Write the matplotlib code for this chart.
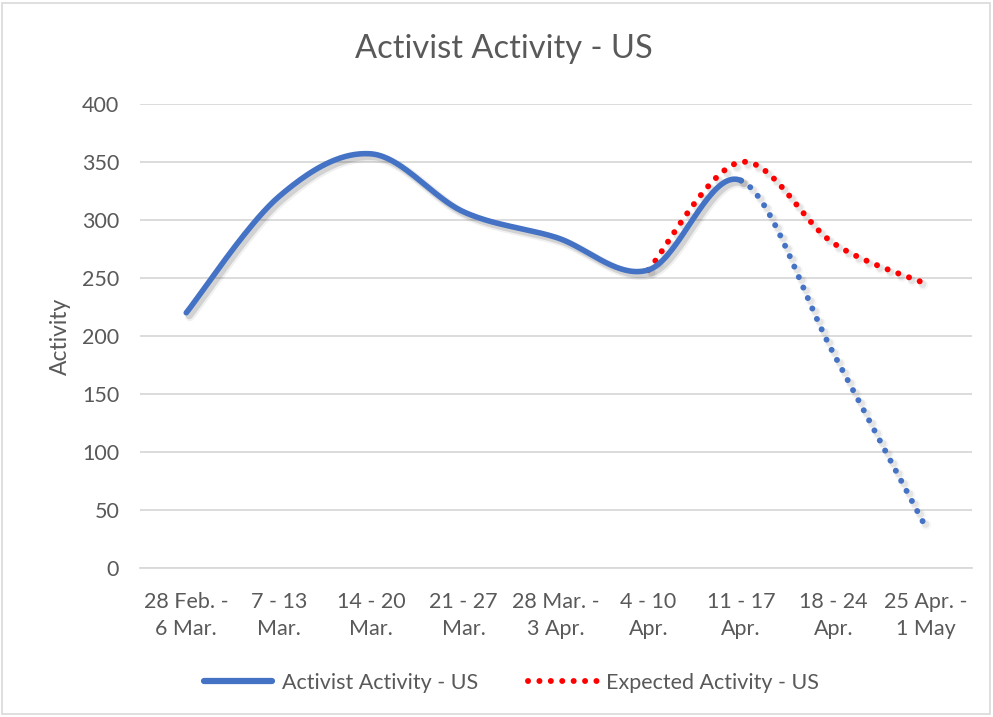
import numpy as np
import matplotlib
matplotlib.use("Agg")
import matplotlib.pyplot as plt
import matplotlib.patheffects as pe
from matplotlib.lines import Line2D
from matplotlib.patches import Rectangle

categories = ["28 Feb. -\n6 Mar.", "7 - 13\nMar.", "14 - 20\nMar.", "21 - 27\nMar.",
              "28 Mar. -\n3 Apr.", "4 - 10\nApr.", "11 - 17\nApr.", "18 - 24\nApr.",
              "25 Apr. -\n1 May"]
activist = [220, 320, 357, 307, 285, 257, 334, 185, 35]
activist_solid_until = 6   # index of last point drawn solid
expected_start = 5
expected = [257, 350, 280, 245]
yticks = [0, 50, 100, 150, 200, 250, 300, 350, 400]

plt.rcParams['font.family'] = ['Lato', 'DejaVu Sans']
TXT = '#595959'
BLUE = '#4472C4'
RED = '#FF0000'
GRID = '#D9D9D9'


def smooth(xs, ys, n=40):
    """Excel-like smoothed line (Catmull-Rom Bezier), returns list of segments."""
    xs = np.asarray(xs, float); ys = np.asarray(ys, float)
    P = np.column_stack([xs, ys])
    segs = []
    for i in range(len(P) - 1):
        p0 = P[i - 1] if i > 0 else P[i]
        p1 = P[i]; p2 = P[i + 1]
        p3 = P[i + 2] if i + 2 < len(P) else P[i + 1]
        c1 = p1 + (p2 - p0) / 6.0
        c2 = p2 - (p3 - p1) / 6.0
        t = np.linspace(0, 1, n)[:, None]
        b = ((1 - t) ** 3) * p1 + 3 * ((1 - t) ** 2) * t * c1 + 3 * (1 - t) * t ** 2 * c2 + t ** 3 * p2
        segs.append(b if i == 0 else b[1:])
    return segs


fig = plt.figure(figsize=(9.93, 7.17), dpi=100)
fig.patches.append(Rectangle((0.002, 0.004), 0.995, 0.992, transform=fig.transFigure,
                             fill=False, edgecolor=GRID, linewidth=1.2))
ax = fig.add_axes([0.141, 0.2078, 0.838, 0.6472])

x = np.arange(len(categories))
segs = smooth(x, activist)
solid = np.vstack(segs[:activist_solid_until])
dotted = np.vstack([solid[-1:]] + segs[activist_solid_until:])


def shadow(lw, a=1.0):
    return [pe.SimpleLineShadow(offset=(2.6, -2.6), shadow_color='#000000', alpha=0.06 * a, linewidth=lw + 3),
            pe.SimpleLineShadow(offset=(2.2, -2.2), shadow_color='#000000', alpha=0.12 * a, linewidth=lw + 1),
            pe.Normal()]


dot_style = (0, (0.01, 1.9))

ax.plot(solid[:, 0], solid[:, 1], color=BLUE, lw=4.0, solid_capstyle='round',
        path_effects=shadow(4.0), zorder=4)
ax.plot(dotted[:, 0], dotted[:, 1], color=BLUE, lw=4.3, linestyle=dot_style,
        dash_capstyle='round', path_effects=shadow(4.3, 0.6), zorder=3)

xe = x[expected_start:expected_start + len(expected)]
esegs = np.vstack(smooth(xe, expected))
ax.plot(esegs[:, 0], esegs[:, 1], color=RED, lw=4.3, linestyle=dot_style,
        dash_capstyle='round', path_effects=shadow(4.3, 0.6), zorder=3)

ax.set_xlim(-0.5, len(categories) - 0.5)
ax.set_ylim(0, 400)
ax.set_yticks(yticks)
ax.set_xticks(x)
ax.set_xticklabels(categories, fontsize=15.5, color=TXT, linespacing=1.45)
ax.tick_params(axis='both', length=0, labelsize=15.5, colors=TXT)
ax.tick_params(axis='x', pad=17)
ax.tick_params(axis='y', pad=15)
for s in ['top', 'right', 'left']:
    ax.spines[s].set_visible(False)
ax.spines['bottom'].set_color(GRID)
ax.spines['bottom'].set_linewidth(1.3)
ax.yaxis.grid(True, color=GRID, lw=1.3)
ax.set_axisbelow(True)
ax.set_ylabel('Activity', fontsize=16.5, color=TXT, labelpad=8)

fig.text(0.507, 0.932, 'Activist Activity - US', ha='center', va='center', fontsize=23.5, color=TXT)

handles = [Line2D([], [], color=BLUE, lw=4.5, solid_capstyle='round'),
           Line2D([], [], color=RED, lw=4.3, linestyle=dot_style, dash_capstyle='round')]
fig.legend(handles, ['Activist Activity - US', 'Expected Activity - US'], loc='center',
           bbox_to_anchor=(0.515, 0.048), ncol=2, frameon=False, fontsize=15.5,
           labelcolor=TXT, handlelength=3.2, handletextpad=0.45, columnspacing=2.3)

fig.savefig('out.png', dpi=100)
